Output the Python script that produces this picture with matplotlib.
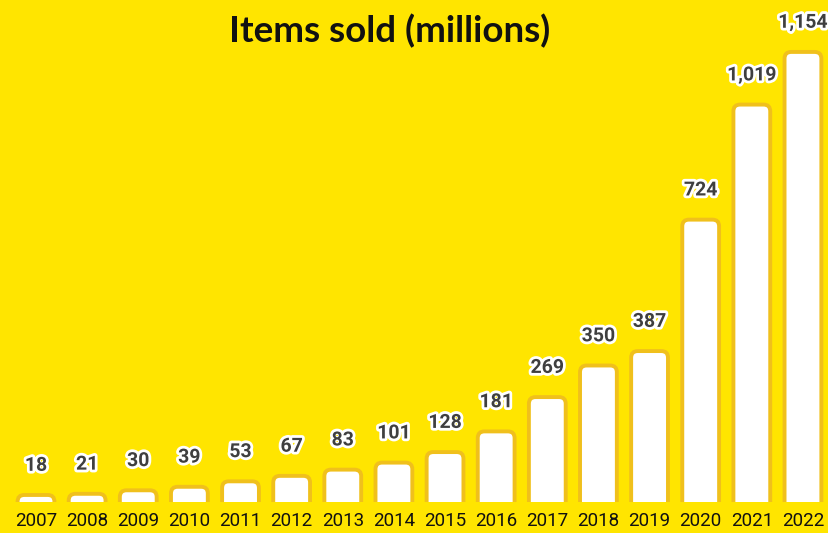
import matplotlib
matplotlib.use("Agg")
import matplotlib.pyplot as plt
import matplotlib.patheffects as pe
from matplotlib.patches import FancyBboxPatch

years = ["2007", "2008", "2009", "2010", "2011", "2012", "2013", "2014",
         "2015", "2016", "2017", "2018", "2019", "2020", "2021", "2022"]
items_sold = [18, 21, 30, 39, 53, 67, 83, 101, 128, 181, 269, 350, 387, 724, 1019, 1154]

bg = "#FFE500"
edge = "#F0C01C"

W, H = 829, 533
fig = plt.figure(figsize=(W / 100, H / 100), dpi=100)
fig.patch.set_facecolor(bg)

base_px = 31  # baseline height from the bottom, pixels
ax = fig.add_axes([0, base_px / H, 1, 1 - base_px / H])
ax.set_facecolor(bg)

# pixel scale: bars 51.13 px apart, 0.39 px per million
step_px = 51.13
y_px = 0.39
ax.set_xlim(-36 / step_px, (W - 36) / step_px)
ax.set_ylim(0, (H - base_px) / y_px)

bar_w = 0.72
aspect = (1 / y_px) / (1 / step_px)
for i, v in enumerate(items_sold):
    box = FancyBboxPatch((i - bar_w / 2, -40), bar_w, v + 40,
                         boxstyle="round,pad=0,rounding_size=0.13",
                         mutation_aspect=aspect,
                         facecolor="white", edgecolor=edge, linewidth=2.8,
                         clip_on=True)
    ax.add_patch(box)
    ax.annotate(f"{v:,}", (i, v), xytext=(0, 21), textcoords="offset points",
                ha="center", va="center", fontsize=14, fontweight="bold",
                family="Roboto", color="#3f3f3f",
                path_effects=[pe.withStroke(linewidth=4, foreground="white")])

ax.set_xticks(range(len(years)))
ax.set_xticklabels(years, fontsize=13.5, family="Roboto", color="#111111")
ax.tick_params(axis="x", length=0, pad=7)
ax.set_yticks([])
for s in ax.spines.values():
    s.set_visible(False)

fig.text(390 / W, 1 - 31 / H, "Items sold (millions)", ha="center", va="center",
         fontsize=26.5, fontweight="bold", family="Lato", color="#111111")

fig.savefig("out.png", dpi=100, facecolor=bg)
